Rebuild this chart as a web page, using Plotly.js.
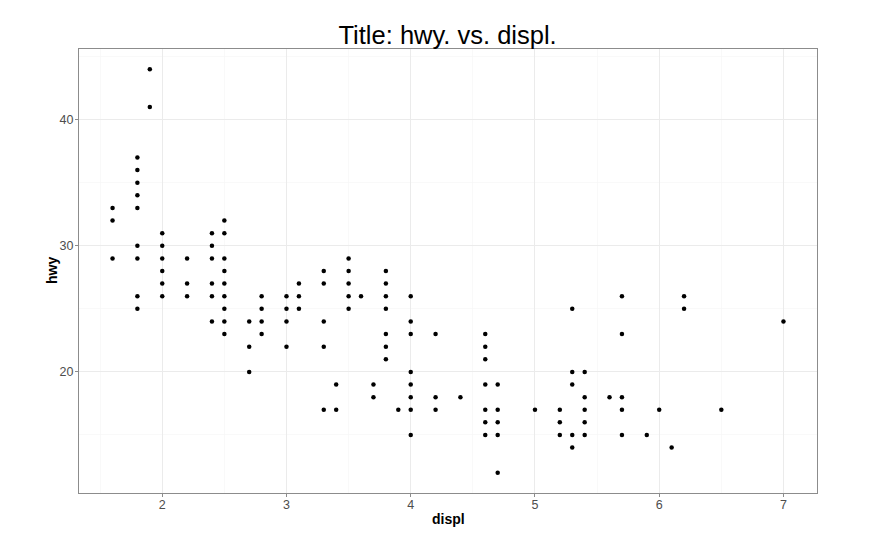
<!DOCTYPE html>
<html>
<head>
<meta charset="utf-8">
<script src="https://cdn.plot.ly/plotly-3.0.1.min.js"></script>
<style>html,body{margin:0;padding:0;background:#fff;}#chart{width:889px;height:555px;}</style>
</head>
<body>
<div id="chart"></div>
<script>
// Unique (displ, hwy) points
var displ = [
  1.6,1.6,1.6,
  1.8,1.8,1.8,1.8,1.8,1.8,1.8,1.8,1.8,
  1.9,1.9,
  2.0,2.0,2.0,2.0,2.0,2.0,
  2.2,2.2,2.2,
  2.4,2.4,2.4,2.4,2.4,2.4,
  2.5,2.5,2.5,2.5,2.5,2.5,2.5,2.5,2.5,
  2.7,2.7,2.7,
  2.8,2.8,2.8,2.8,
  3.0,3.0,3.0,3.0,
  3.1,3.1,3.1,
  3.3,3.3,3.3,3.3,3.3,
  3.4,3.4,
  3.5,3.5,3.5,3.5,3.5,
  3.6,
  3.7,3.7,
  3.8,3.8,3.8,3.8,3.8,3.8,3.8,
  3.9,
  4.0,4.0,4.0,4.0,4.0,4.0,4.0,4.0,
  4.2,4.2,4.2,
  4.4,
  4.6,4.6,4.6,4.6,4.6,4.6,4.6,
  4.7,4.7,4.7,4.7,4.7,
  5.0,
  5.2,5.2,5.2,
  5.3,5.3,5.3,5.3,5.3,
  5.4,5.4,5.4,5.4,5.4,
  5.6,
  5.7,5.7,5.7,5.7,5.7,
  5.9,
  6.0,
  6.1,
  6.2,6.2,
  6.5,
  7.0
];
var hwy = [
  33,32,29,
  37,36,35,34,33,30,29,26,25,
  44,41,
  31,30,29,28,27,26,
  29,27,26,
  31,30,29,27,26,24,
  32,31,29,28,27,26,25,24,23,
  24,22,20,
  26,25,24,23,
  26,25,24,22,
  27,26,25,
  28,27,24,22,17,
  19,17,
  29,28,27,26,25,
  26,
  19,18,
  28,27,26,25,23,22,21,
  17,
  26,24,23,20,19,18,17,15,
  23,18,17,
  18,
  23,22,21,19,17,16,15,
  19,17,16,15,12,
  17,
  17,16,15,
  25,20,19,15,14,
  20,18,17,16,15,
  18,
  26,23,18,17,15,
  15,
  17,
  14,
  26,25,
  17,
  24
];
var xTicks = [2,3,4,5,6,7];
var yTicks = [20,30,40];
var xMinor = [1.5,2.5,3.5,4.5,5.5,6.5];
var yMinor = [15,25,35,45];

var FONT = 'Liberation Sans, Arial, sans-serif';

var trace = {
  x: displ, y: hwy, type: 'scatter', mode: 'markers',
  marker: {color: '#000000', size: 4.5, line: {width: 0}},
  hoverinfo: 'x+y'
};

var axisCommon = {
  showline: true, linecolor: '#8c8c8c', linewidth: 1, mirror: true,
  showgrid: true, gridcolor: '#ebebeb', gridwidth: 1,
  zeroline: false,
  ticks: 'outside', ticklen: 3, tickwidth: 1, tickcolor: '#8c8c8c',
  tickfont: {family: FONT, size: 12.5, color: '#4d4d4d'},
  tickmode: 'array',
  automargin: false
};

var layout = {
  width: 889, height: 555,
  paper_bgcolor: '#ffffff', plot_bgcolor: '#ffffff',
  margin: {l: 79, r: 72, t: 49, b: 62},
  showlegend: false,
  title: {
    text: 'Title: hwy. vs. displ.',
    font: {family: FONT, size: 25.5, color: '#000000'},
    x: 0.5035, xanchor: 'center', y: 0.921, yanchor: 'bottom'
  },
  xaxis: Object.assign({}, axisCommon, {
    range: [1.33, 7.27],
    tickvals: xTicks, ticktext: xTicks.map(String),
    ticklabelstandoff: -3,
    minor: {tickvals: xMinor, showgrid: true, gridcolor: '#f5f5f5', gridwidth: 0.6, ticks: ''}
  }),
  yaxis: Object.assign({}, axisCommon, {
    range: [10.4, 45.6],
    tickvals: yTicks, ticktext: yTicks.map(String),
    ticklabelstandoff: -1,
    minor: {tickvals: yMinor, showgrid: true, gridcolor: '#f5f5f5', gridwidth: 0.6, ticks: ''}
  }),
  annotations: [
    {text: '<b>displ</b>', xref: 'paper', yref: 'paper', x: 0.5, y: -0.0592,
     xanchor: 'center', yanchor: 'middle', showarrow: false,
     font: {family: FONT, size: 14, color: '#000000'}},
    {text: '<b>hwy</b>', xref: 'paper', yref: 'paper', x: -0.0365, y: 0.5,
     xanchor: 'center', yanchor: 'middle', showarrow: false, textangle: -90,
     font: {family: FONT, size: 14, color: '#000000'}}
  ]
};

Plotly.newPlot('chart', [trace], layout, {displayModeBar: false, staticPlot: true});
</script>
</body>
</html>
